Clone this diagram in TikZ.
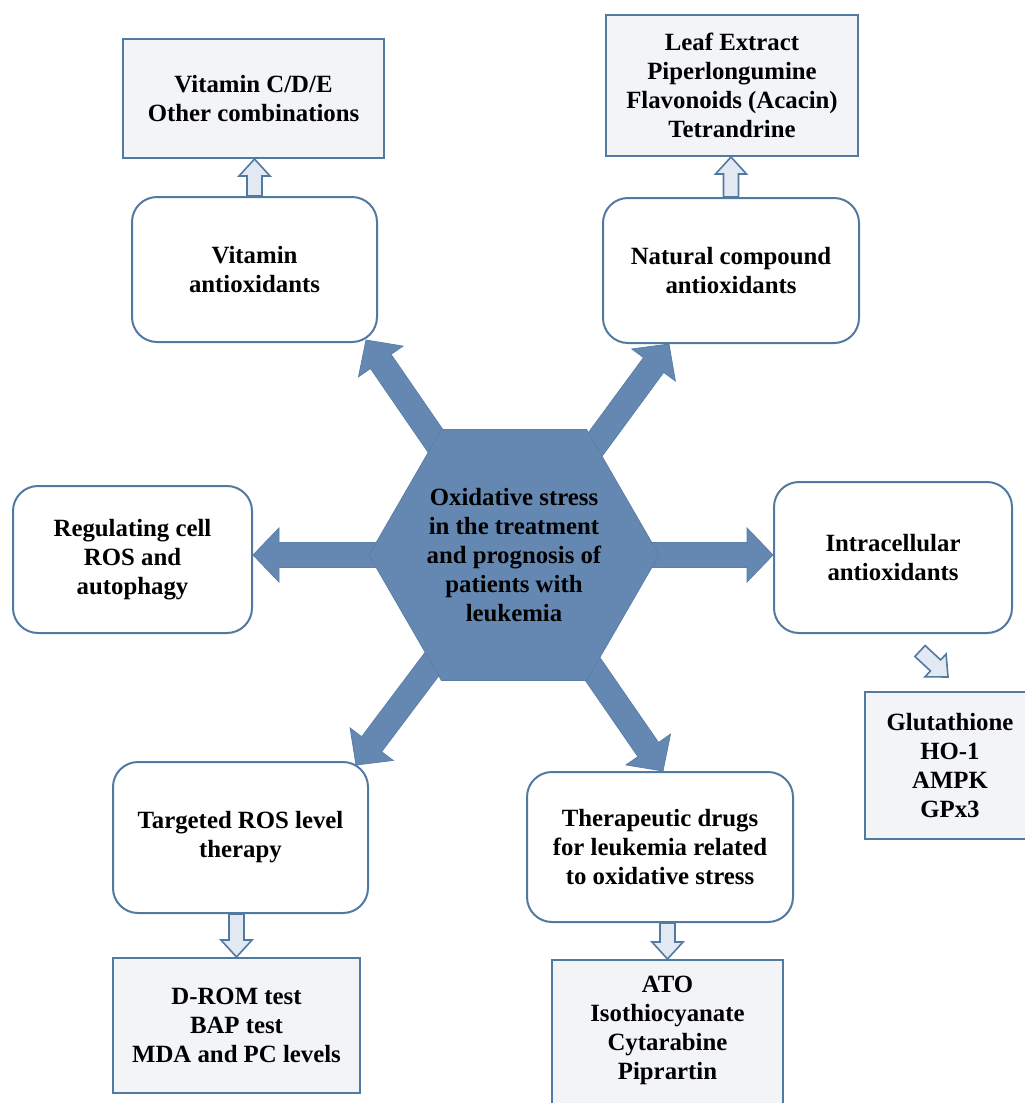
\documentclass[tikz,border=0pt]{standalone}
\usepackage{fontspec}
\setmainfont{Liberation Serif}
\usetikzlibrary{shapes.geometric,calc,backgrounds}
\definecolor{hexfill}{HTML}{6488B2}
\definecolor{hexdraw}{HTML}{5B7FA6}
\definecolor{bcol}{HTML}{5279A0}
\definecolor{sfill}{HTML}{F2F4F8}
\definecolor{hfill}{HTML}{E3E9F2}
\newcommand\diagfont{\fontsize{24.8}{29}\selectfont\bfseries}
\tikzset{
  blockarrow/.style n args={3}{to path={
    let \p1=(\tikztostart), \p2=(\tikztotarget),
        \n1={atan2(\y2-\y1,\x2-\x1)}, \n2={veclen(\x2-\x1,\y2-\y1)} in
    ($(\p1)+(\n1+90:#1)$) -- ($(\p1)+(\n1:\n2-#3)+(\n1+90:#1)$)
    -- ($(\p1)+(\n1:\n2-#3)+(\n1+90:#2)$) -- (\p2)
    -- ($(\p1)+(\n1:\n2-#3)+(\n1-90:#2)$) -- ($(\p1)+(\n1:\n2-#3)+(\n1-90:#1)$)
    -- ($(\p1)+(\n1-90:#1)$) -- cycle}},
  bigarrow/.style={blockarrow={12.5pt}{27pt}{26pt}, fill=hexfill, draw=hexdraw, line width=0.8pt},
  hollowarrow/.style={blockarrow={7.5pt}{15.5pt}{17pt}, fill=hfill, draw=bcol, line width=1.6pt},
  rbox/.style={draw=bcol, line width=2pt, fill=white, rounded corners=25pt, align=center, inner sep=0pt, font=\diagfont},
  sbox/.style={draw=bcol, line width=2pt, fill=sfill, align=center, inner sep=0pt, font=\diagfont},
  hexnode/.style={regular polygon, regular polygon sides=6, minimum size=290pt, inner sep=0pt, fill=hexfill, draw=hexdraw, line width=0.8pt, align=center, font=\diagfont},
}
\begin{document}
\begin{tikzpicture}[x=1pt,y=-1pt]
\useasboundingbox (0,0) rectangle (1025,1103);
\clip (0,0) rectangle (1025,1103);

\node[hexnode] (hex) at (514,555) {Oxidative stress\\in the treatment\\and prognosis of\\patients with\\leukemia};

\node[rbox, minimum width=245pt, minimum height=145pt] (vit) at (254.5,269.5) {Vitamin\\antioxidants};
\node[sbox, minimum width=261pt, minimum height=119pt] (vitC) at (253.5,98.5) {Vitamin C/D/E\\Other combinations};
\node[rbox, minimum width=256pt, minimum height=145pt] (nat) at (731,270.5) {Natural compound\\antioxidants};
\node[sbox, minimum width=252pt, minimum height=141pt] (leaf) at (732,85.5) {Leaf Extract\\Piperlongumine\\Flavonoids (Acacin)\\Tetrandrine};
\node[rbox, minimum width=239pt, minimum height=147pt] (reg) at (132.5,559.5) {Regulating cell\\ROS and\\autophagy};
\node[rbox, minimum width=238pt, minimum height=151pt] (intra) at (893,557.5) {Intracellular\\antioxidants};
\node[sbox, minimum width=170pt, minimum height=147pt] (glut) at (950,765.5) {Glutathione\\HO-1\\AMPK\\GPx3};
\node[rbox, minimum width=255pt, minimum height=151pt] (targ) at (240.5,837.5) {Targeted ROS level\\therapy};
\node[sbox, minimum width=247pt, minimum height=135pt] (drom) at (236.5,1025.5) {D-ROM test\\BAP test\\MDA and PC levels};
\node[rbox, minimum width=266pt, minimum height=150pt] (ther) at (660,847) {Therapeutic drugs\\for leukemia related\\to oxidative stress};
\node[sbox, minimum width=231pt, minimum height=152pt] (ato) at (667.5,1036) {\raisebox{6pt}[\height][\depth]{\begin{tabular}{@{}c@{}}ATO\\Isothiocyanate\\Cytarabine\\Piprartin\end{tabular}}};

\begin{pgfonlayer}{background}
\draw[bigarrow] (hex.center) to ([xshift=-12pt,yshift=3pt]vit.south east);
\draw[bigarrow] (hex.center) to ([xshift=67pt]nat.south west);
\draw[bigarrow] (hex.center) to (reg.east |- hex.center);
\draw[bigarrow] (hex.center) to (intra.west |- hex.center);
\draw[bigarrow] (hex.center) to ([xshift=-13pt,yshift=-4pt]targ.north east);
\draw[bigarrow] (hex.center) to ([xshift=3pt]ther.north);
\end{pgfonlayer}

\coordinate (dA) at ([xshift=27pt,yshift=-17pt]intra.south);
\coordinate (dB) at ([xshift=-2pt,yshift=14pt]glut.north);
\draw[hollowarrow] (vit.north) to (vit.north |- vitC.south);
\draw[hollowarrow] (nat.north) to (nat.north |- leaf.south);
\draw[hollowarrow] (dA) to (dB);
\draw[hollowarrow] (drom.north |- targ.south) to (drom.north);
\draw[hollowarrow] (ato.north |- ther.south) to (ato.north);
\end{tikzpicture}
\end{document}
